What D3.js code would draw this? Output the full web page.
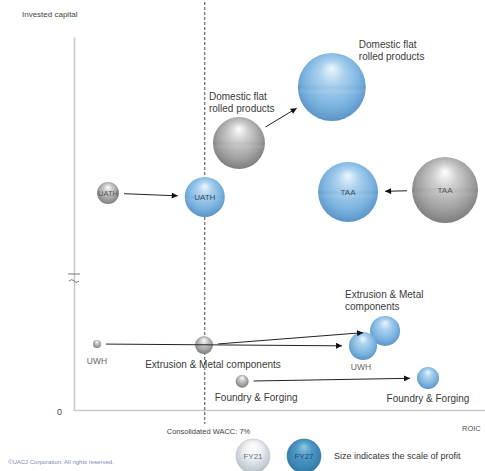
<!DOCTYPE html>
<html>
<head>
<meta charset="utf-8">
<script src="https://cdn.jsdelivr.net/npm/d3@7"></script>
<style>
  html, body { margin: 0; padding: 0; background: #fff; }
  svg { display: block; font-family: "Liberation Sans", Arial, sans-serif; }
</style>
</head>
<body>
<svg id="chart" width="485" height="471"></svg>
<script>
// Business segments, FY21 actual vs FY27 plan
const segments  = ["Domestic flat rolled products", "TAA", "UATH", "Extrusion & Metal components", "UWH", "Foundry & Forging"];
const roic21    = [8.83, 19.86, 1.82, 6.96, 1.23, 9.0];    // ROIC, %
const roic27    = [13.8, 14.67, 7.0, 16.65, 15.47, 18.95];
const capital21 = [258, 199.6, 195.8, 40.6, 41.25, 18];    // invested capital
const capital27 = [327.8, 197, 190.9, 49.4, 40.0, 20];
const profit21  = [55.2, 88.9, 9.9, 6.6, 1.3, 3.4];        // bubble size = profit
const profit27  = [94.4, 73.5, 32.7, 18.4, 16.0, 9.9];
const waccValue = 7;
const yTickValues = [0];
const legendYears = ["FY21", "FY27"];

const svg = d3.select("#chart");

// Scales: x = ROIC, y = invested capital with a broken axis between 80 and 100
const x = d3.scaleLinear().domain([0, 22]).range([74, 485]);
const y = d3.scaleLinear().domain([0, 80, 100, 390]).range([410, 282, 270, 37]);
const r = d3.scaleSqrt().domain([0, 100]).range([0, 35]);

// Gradients for the glossy spheres
const defs = svg.append("defs");
function sphere(id, stops) {
  const g = defs.append("radialGradient").attr("id", id)
    .attr("cx", "50%").attr("cy", "45%").attr("r", "58%")
    .attr("fx", "50%").attr("fy", "22%");
  stops.forEach(s => g.append("stop").attr("offset", s[0]).attr("stop-color", s[1]));
}
sphere("blueBall", [[0, "#eef7fd"], [0.3, "#acd2ef"], [0.7, "#7cb4e0"], [0.92, "#6099cb"], [1, "#5289bb"]]);
sphere("grayBall", [[0, "#ffffff"], [0.3, "#d0d0d0"], [0.7, "#a2a2a2"], [0.92, "#848484"], [1, "#727272"]]);
sphere("legend21", [[0, "#ffffff"], [0.45, "#edf0f3"], [0.85, "#c4ccd4"], [1, "#a7b1bb"]]);
sphere("legend27", [[0, "#8fc6e6"], [0.4, "#4f9ac6"], [0.85, "#3681b0"], [1, "#2b6b94"]]);
const band = defs.append("linearGradient").attr("id", "band")
  .attr("x1", 0).attr("y1", 0).attr("x2", 0).attr("y2", 1);
[[0, "#000", 0], [0.46, "#000", 0], [0.5, "#000", 0.035], [0.56, "#fff", 0.05], [0.62, "#fff", 0]]
  .forEach(s => band.append("stop").attr("offset", s[0]).attr("stop-color", s[1]).attr("stop-opacity", s[2]));

defs.append("marker").attr("id", "arrow")
  .attr("viewBox", "0 0 10 10").attr("refX", 10).attr("refY", 5)
  .attr("markerWidth", 7).attr("markerHeight", 6).attr("markerUnits", "userSpaceOnUse")
  .attr("orient", "auto")
  .append("path").attr("d", "M0,0L10,5L0,10Z").attr("fill", "#111");

// Axes (no ticks, only the zero label)
const axisColor = "#c9c9c9";
const yAxis = svg.append("g").attr("transform", `translate(${x(0)},0)`)
  .call(d3.axisLeft(y).tickValues(yTickValues).tickSize(0).tickPadding(12));
const xAxis = svg.append("g").attr("transform", `translate(0,${y(0)})`)
  .call(d3.axisBottom(x).tickValues([]).tickSizeOuter(0));
[yAxis, xAxis].forEach(a => {
  a.select(".domain").attr("stroke", axisColor).attr("stroke-width", 1.6);
  a.selectAll("text").attr("fill", "#444").attr("font-size", 9);
});
yAxis.selectAll(".tick text").attr("dy", "0.5em");

// Axis break marks
const brk = svg.append("g").attr("stroke", "#777").attr("fill", "none").attr("stroke-width", 1);
brk.append("line").attr("x1", x(0) - 6).attr("x2", x(0) + 6)
  .attr("y1", y(80) - 8).attr("y2", y(80) - 8);
brk.append("path")
  .attr("d", `M${x(0) - 5},${y(80) - 1} q3,-3 5,0 t5,0`);

svg.append("text").attr("x", 22).attr("y", 17).attr("font-size", 8)
  .attr("fill", "#444").text("Invested capital");
svg.append("text").attr("x", 462).attr("y", 431).attr("font-size", 7.5)
  .attr("fill", "#555").text("ROIC");

// WACC reference line
svg.append("line")
  .attr("x1", x(waccValue)).attr("x2", x(waccValue))
  .attr("y1", 2).attr("y2", 424)
  .attr("stroke", "#444").attr("stroke-width", 1).attr("stroke-dasharray", "3,2");
svg.append("text").attr("x", x(waccValue) - 38).attr("y", 434).attr("font-size", 7.5)
  .attr("fill", "#444").text(`Consolidated WACC: ${waccValue}%`);

// Rows: one entry per segment and year
const rows = [];
segments.forEach((s, i) => {
  rows.push({ seg: s, yr: "FY21", x: x(roic21[i]), y: y(capital21[i]), r: r(profit21[i]), i });
  rows.push({ seg: s, yr: "FY27", x: x(roic27[i]), y: y(capital27[i]), r: r(profit27[i]), i });
});

// Bubbles
const ballG = svg.append("g");
ballG.selectAll("circle.ball").data(rows).join("circle").attr("class", "ball")
  .attr("cx", d => d.x).attr("cy", d => d.y).attr("r", d => d.r)
  .attr("fill", d => d.yr === "FY21" ? "url(#grayBall)" : "url(#blueBall)");
ballG.selectAll("circle.band").data(rows.filter(d => d.r > 18)).join("circle").attr("class", "band")
  .attr("cx", d => d.x).attr("cy", d => d.y).attr("r", d => d.r).attr("fill", "url(#band)");

// Arrows from FY21 to FY27
const arrows = segments.map((s, i) => {
  const a = rows[2 * i], b = rows[2 * i + 1];
  const dx = b.x - a.x, dy = b.y - a.y, len = Math.hypot(dx, dy);
  const ux = dx / len, uy = dy / len;
  const s0 = a.r + 5, s1 = len - b.r - 7;
  return { x1: a.x + ux * s0, y1: a.y + uy * s0, x2: a.x + ux * s1, y2: a.y + uy * s1 };
});
svg.append("g").selectAll("line").data(arrows).join("line")
  .attr("x1", d => d.x1).attr("y1", d => d.y1).attr("x2", d => d.x2).attr("y2", d => d.y2)
  .attr("stroke", "#222").attr("stroke-width", 1).attr("marker-end", "url(#arrow)");

// Labels: offsets from each bubble centre
const labelLayout = {
  "Domestic flat rolled products|FY21": { dx: -30, dy: -43, anchor: "start", lines: ["Domestic flat", "rolled products"], size: 10 },
  "Domestic flat rolled products|FY27": { dx: 27, dy: -39, anchor: "start", lines: ["Domestic flat", "rolled products"], size: 10 },
  "TAA|FY21": { dx: 0, dy: 3, anchor: "middle", lines: ["TAA"], size: 8, fill: "#555" },
  "TAA|FY27": { dx: 0, dy: 3, anchor: "middle", lines: ["TAA"], size: 8, fill: "#3a4c5e" },
  "UATH|FY21": { dx: 0, dy: 2.5, anchor: "middle", lines: ["UATH"], size: 7.5, fill: "#555" },
  "UATH|FY27": { dx: 0, dy: 3, anchor: "middle", lines: ["UATH"], size: 8, fill: "#3a4c5e" },
  "Extrusion & Metal components|FY21": { dx: 9, dy: 23, anchor: "middle", lines: ["Extrusion & Metal components"], size: 10 },
  "Extrusion & Metal components|FY27": { dx: -40, dy: -33, anchor: "start", lines: ["Extrusion & Metal", "components"], size: 10 },
  "UWH|FY21": { dx: 0, dy: 20, anchor: "middle", lines: ["UWH"], size: 8.5, fill: "#666" },
  "UWH|FY27": { dx: -2, dy: 24, anchor: "middle", lines: ["UWH"], size: 8.5, fill: "#666" },
  "Foundry & Forging|FY21": { dx: 14, dy: 20, anchor: "middle", lines: ["Foundry & Forging"], size: 10 },
  "Foundry & Forging|FY27": { dx: 0, dy: 24, anchor: "middle", lines: ["Foundry & Forging"], size: 10 }
};
const labelG = svg.append("g");
rows.forEach(d => {
  const L = labelLayout[d.seg + "|" + d.yr];
  const t = labelG.append("text")
    .attr("x", d.x + L.dx).attr("y", d.y + L.dy)
    .attr("text-anchor", L.anchor).attr("font-size", L.size)
    .attr("fill", L.fill || "#3a3a3a");
  L.lines.forEach((ln, k) => t.append("tspan").attr("x", d.x + L.dx).attr("dy", k ? 12 : 0).text(ln));
});

// Legend
const legend = svg.append("g").attr("transform", "translate(253,456)");
legendYears.forEach((yr, k) => {
  const g = legend.append("g").attr("transform", `translate(${k * 51},0)`);
  g.append("circle").attr("r", 17)
    .attr("fill", k ? "url(#legend27)" : "url(#legend21)")
    .attr("stroke", k ? "#2f7299" : "#b9c1c9").attr("stroke-width", 0.6);
  g.append("text").attr("text-anchor", "middle").attr("y", 3).attr("font-size", 8)
    .attr("fill", k ? "#1d4f70" : "#6b7480").text(yr);
});
legend.append("text").attr("x", 81).attr("y", 3).attr("font-size", 9)
  .attr("fill", "#333").text("Size indicates the scale of profit");

// Footer
svg.append("text").attr("x", 8).attr("y", 464).attr("font-size", 6)
  .attr("fill", "#7b8bb0").text("©UACJ Corporation. All rights reserved.");
</script>
</body>
</html>
